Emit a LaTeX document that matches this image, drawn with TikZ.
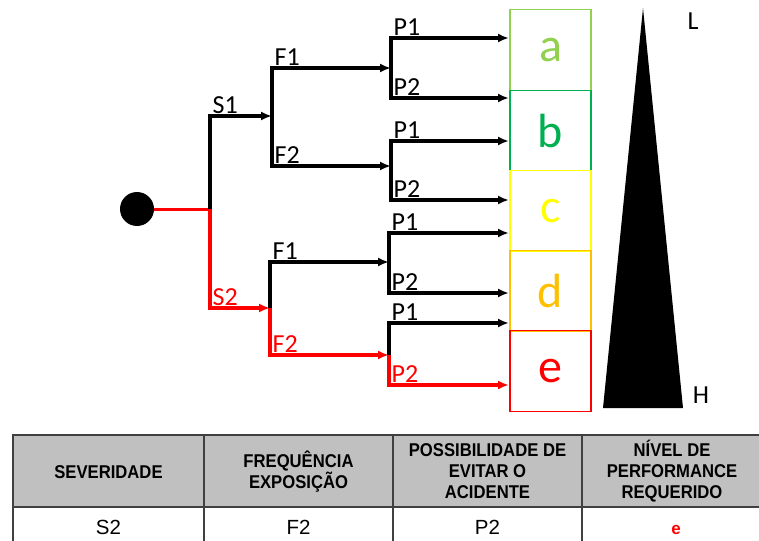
\documentclass[tikz,border=0pt]{standalone}
\usepackage{fontspec}
\setmainfont{Carlito}
\newfontfamily\tabfont{Liberation Sans}
\usetikzlibrary{arrows.meta}
\definecolor{lvla}{HTML}{92D050}
\definecolor{lvlb}{HTML}{00B050}
\definecolor{lvlc}{HTML}{FFFF00}
\definecolor{lvld}{HTML}{FFC000}
\definecolor{lvle}{HTML}{FF0000}
\definecolor{hdrgray}{HTML}{C0C0C0}
\definecolor{rulegray}{HTML}{404040}
\tikzset{
  blk/.style={line width=3.2pt,-{Latex[length=11pt,width=9pt]}},
  redarr/.style={blk,red},
  lbl/.style={anchor=south west,inner sep=2.5pt,font=\fontsize{26}{26}\selectfont},
  level/.style={draw=#1,text=#1,line width=1.2pt,minimum width=81pt,minimum height=80.5pt,inner sep=0pt,font=\fontsize{48}{48}\selectfont},
  hdr/.style={align=center,font=\tabfont\bfseries\fontsize{18.5}{21}\selectfont\addfontfeature{FakeStretch=0.9}},
  cell/.style={anchor=base,font=\tabfont\fontsize{20.5}{20.5}\selectfont}
}
\begin{document}
\begin{tikzpicture}[x=1pt,y=-1pt]
        \useasboundingbox (0,0) rectangle (759,540);
        % start point and branch points
        \node[circle,fill=black,minimum size=34pt,inner sep=0pt](root)at(137,209){};
        \coordinate (jS) at (210,209);
        \coordinate (jF1) at (272,116);
        \coordinate (jF2) at (270,308);
        \coordinate (jP1) at (391,68);
        \coordinate (jP2) at (391,166);
        \coordinate (jP3) at (389,262);
        \coordinate (jP4) at (389,355);
        % arrow ends at the boxes
        \foreach \t/\y in {t1/38,t2/98,t3/141,t4/200,t5/233,t6/293,t7/323,t8/385} \coordinate (\t) at (509,\y);
        % severity
        \draw[red,line width=3pt](root)--(jS);
        \draw[blk](jS)|-(jF1);
        \draw[redarr](jS)|-(jF2);
        \node[lbl](lS1)at(jS |- jF1){S1};
        \node[lbl,text=red](lS2)at(jS |- jF2){S2};
        % frequency
        \draw[blk](jF1)|-(jP1);
        \draw[blk](jF1)|-(jP2);
        \draw[blk](jF2)|-(jP3);
        \draw[redarr](jF2)|-(jP4);
        \node[lbl](lF1a)at(jF1 |- jP1){F1};
        \node[lbl](lF2a)at(jF1 |- jP2){F2};
        \node[lbl](lF1b)at(jF2 |- jP3){F1};
        \node[lbl,text=red](lF2b)at(jF2 |- jP4){F2};
        % possibility of avoiding
        \foreach \j/\u/\d in {jP1/t1/t2,jP2/t3/t4,jP3/t5/t6}{
            \draw[blk](\j)|-(\u);
            \draw[blk](\j)|-(\d);
            \node[lbl]at(\j |- \u){P1};
            \node[lbl]at(\j |- \d){P2};
        }
        \draw[blk](jP4)|-(t7);
        \draw[redarr](jP4)|-(t8);
        \node[lbl](lP1d)at(jP4 |- t7){P1};
        \node[lbl,text=red](lP2d)at(jP4 |- t8){P2};
        % performance levels
        \foreach \n/\y in {a/50,b/130.5,c/211,d/291,e/371} \node[level=lvl\n](pl\n)at(550.5,\y){\n};
        \fill(643,8)--(683,408)--(603,408)--cycle;
        \node[font=\fontsize{26}{26}\selectfont](lo)at(693,21){L};
        \node[font=\fontsize{26}{26}\selectfont](hi)at(701,395){H};
        % summary table
        \fill[hdrgray](13,435)rectangle(762,507);
        \draw[rulegray,line width=1.4pt](13,545)--(13,435)--(762,435);
        \draw[rulegray,line width=1.4pt](13,507)--(762,507);
        \foreach \x in {204,393,582} \draw[rulegray,line width=1.4pt](\x,435)--(\x,545);
        \node[hdr](h1)at(108.5,472){SEVERIDADE};
        \node[hdr](h2)at(298.5,472){FREQUÊNCIA\\EXPOSIÇÃO};
        \node[hdr](h3)at(487.5,471){POSSIBILIDADE DE\\EVITAR O\\ACIDENTE};
        \node[hdr](h4)at(672,471){NÍVEL DE\\PERFORMANCE\\REQUERIDO};
        \node[cell](c1)at(108.5,534){S2};
        \node[cell](c2)at(298.5,534){F2};
        \node[cell](c3)at(487.5,534){P2};
        \node[cell,text=red,font=\tabfont\bfseries\fontsize{17}{17}\selectfont](c4)at(676,534){e};
\end{tikzpicture}
\end{document}
